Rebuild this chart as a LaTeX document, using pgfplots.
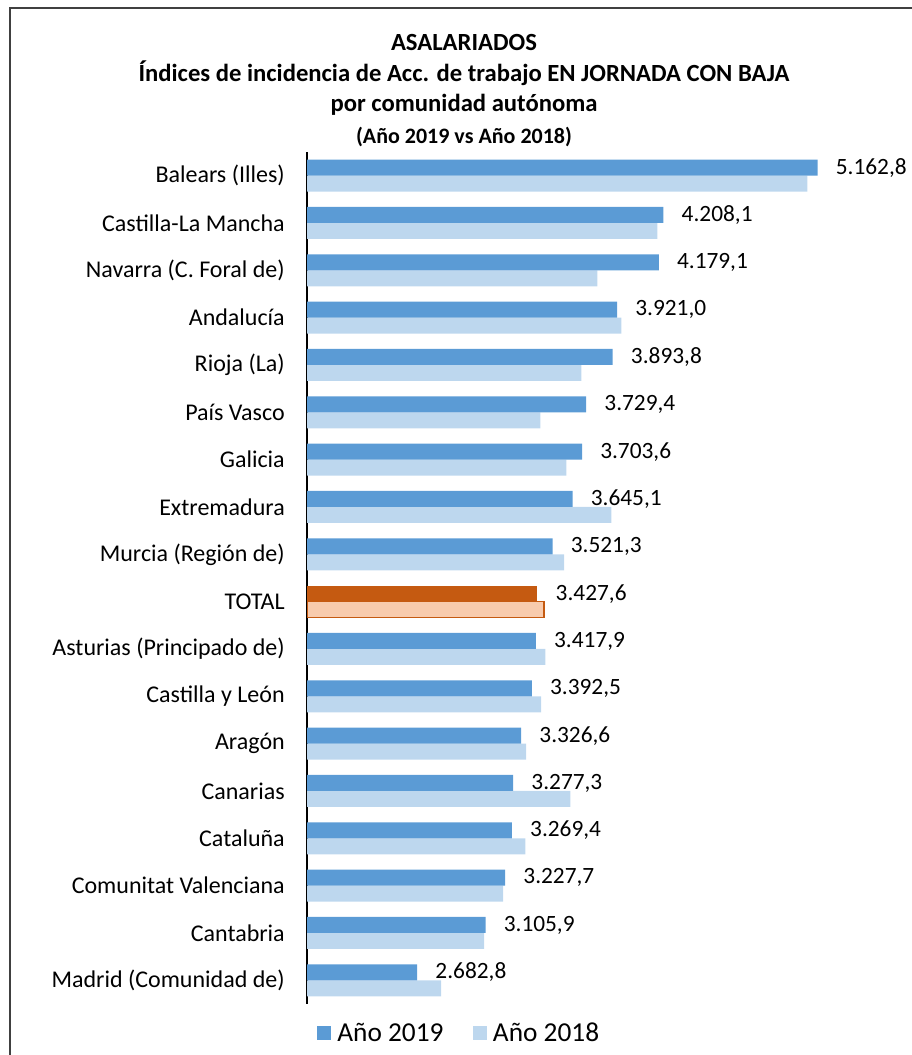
\documentclass[border=0pt]{standalone}
\usepackage{pgfplots}
\pgfplotsset{compat=1.18}
\usepackage{pgfplotstable}
\usepackage{fontspec}
\setmainfont{Carlito}

\definecolor{a19}{RGB}{91,155,213}
\definecolor{a18}{RGB}{189,215,238}
\definecolor{t19}{RGB}{197,90,17}
\definecolor{t18}{RGB}{248,203,173}

% pos (17 = arriba), 2019, 2018, etiqueta
\pgfplotstableread{
pos v19 v18 lab
17 5162.8 5100 5.162,8
16 4208.1 4170 4.208,1
15 4179.1 3798 4.179,1
14 3921.0 3947 3.921,0
13 3893.8 3699 3.893,8
12 3729.4 3445 3.729,4
11 3703.6 3606 3.703,6
10 3645.1 3885 3.645,1
9 3521.3 3593 3.521,3
7 3417.9 3476 3.417,9
6 3392.5 3451 3.392,5
5 3326.6 3358 3.326,6
4 3277.3 3631 3.277,3
3 3269.4 3352 3.269,4
2 3227.7 3215 3.227,7
1 3105.9 3097 3.105,9
0 2682.8 2831 2.682,8
}\datos

\pgfplotstableread{
pos v19 v18 lab
8 3427.6 3469 3.427,6
}\total

\begin{document}
\begin{tikzpicture}
\useasboundingbox (0,0) rectangle (684pt,791.25pt);
% marco
\draw[line width=0.8pt, black!75] (7.5pt,-5pt) -- (7.5pt,785.25pt) -- (700pt,785.25pt);
% titulo
\node[font=\bfseries\fontsize{18.5}{20}\selectfont] at (348pt,759pt) {ASALARIADOS};
\node[font=\bfseries\fontsize{18.5}{20}\selectfont] at (348pt,736pt) {Índices de incidencia de Acc. de trabajo EN JORNADA CON BAJA};
\node[font=\bfseries\fontsize{18.5}{20}\selectfont] at (348pt,713pt) {por comunidad autónoma};
\node[font=\bfseries\fontsize{16.5}{18}\selectfont] at (348pt,688.5pt) {(Año 2019 vs Año 2018)};

\begin{axis}[
    at={(230.25pt,38.25pt)}, anchor=south west,
    scale only axis, width=423.75pt, height=639pt,
    xbar, bar width=12pt,
    xmin=2000, xmax=5500,
    ymin=-0.5, ymax=17.5,
    axis x line=none, axis y line*=left,
    axis line style={line width=1pt, black},
    xtick=\empty,
    ytick={0,...,17},
    yticklabels={Madrid (Comunidad de), Cantabria, Comunitat Valenciana, Cataluña, Canarias, Aragón, Castilla y León, Asturias (Principado de), TOTAL, Murcia (Región de), Extremadura, Galicia, País Vasco, Rioja (La), Andalucía, Navarra (C. Foral de), Castilla-La Mancha, Balears (Illes)},
    ytick style={draw=none},
    major tick length=0pt,
    yticklabel style={font=\fontsize{18}{20}\selectfont, anchor=east, inner sep=0pt, xshift=-16.5pt},
    nodes near coords style={font=\fontsize{17.5}{20}\selectfont, anchor=west, inner sep=0pt, xshift=13.5pt, text=black},
    legend style={at={(axis description cs:0.27,0)}, anchor=center, yshift=-21.75pt,
        draw=none, fill=none, font=\fontsize{20.5}{22}\selectfont, legend columns=2,
        /tikz/every even column/.append style={column sep=20pt}},
]
\addplot[fill=a18, draw=none, bar shift=-6pt, forget plot] table[x=v18, y=pos] {\datos};
\addplot[fill=t18, draw=t19, line width=1pt, bar shift=-6pt, forget plot] table[x=v18, y=pos] {\total};
\addplot[fill=a19, draw=none, bar shift=6pt, forget plot,
    nodes near coords, point meta=explicit symbolic] table[x=v19, y=pos, meta=lab] {\datos};
\addplot[fill=t19, draw=none, bar shift=6pt, forget plot,
    nodes near coords, point meta=explicit symbolic] table[x=v19, y=pos, meta=lab] {\total};

\addlegendimage{legend image code/.code={\fill[a19] (0cm,-0.17cm) rectangle (0.34cm,0.17cm);}}
\addlegendentry{\hspace{3pt}Año 2019}
\addlegendimage{legend image code/.code={\fill[a18] (0cm,-0.17cm) rectangle (0.34cm,0.17cm);}}
\addlegendentry{\hspace{3pt}Año 2018}
\end{axis}
\end{tikzpicture}
\end{document}
